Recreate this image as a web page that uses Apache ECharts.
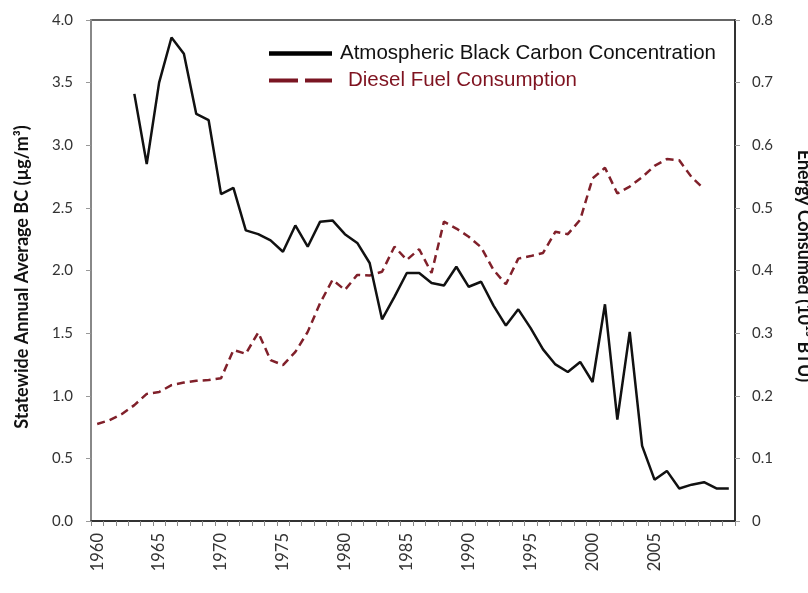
<!DOCTYPE html>
<html>
<head>
<meta charset="utf-8">
<script src="https://cdn.jsdelivr.net/npm/echarts@6/dist/echarts.min.js"></script>
<style>html,body{margin:0;padding:0;background:#fff;}#c{width:808px;height:593px;}</style>
</head>
<body>
<div id="c"></div>
<script>
var years = [];
for (var y = 1960; y <= 2011; y++) years.push(String(y));

// Atmospheric black carbon (µg/m³), 1960–2011 (no data 1960–1962)
var bcValues = [null, null, null,
  3.41, 2.85, 3.50, 3.86, 3.73, 3.25, 3.20,
  2.61, 2.66, 2.32, 2.29, 2.24, 2.15, 2.36, 2.19, 2.39, 2.40,
  2.29, 2.22, 2.06, 1.61, 1.79, 1.98, 1.98, 1.90, 1.88, 2.03,
  1.87, 1.91, 1.72, 1.56, 1.69, 1.54, 1.37, 1.25, 1.19, 1.27,
  1.11, 1.73, 0.81, 1.51, 0.60, 0.33, 0.40, 0.26, 0.29, 0.31,
  0.26, 0.26];

// Diesel fuel consumption (10^15 BTU), 1960–2009
var dieselValues = [
  0.155, 0.161, 0.171, 0.185, 0.203, 0.206, 0.217, 0.221, 0.224, 0.225,
  0.228, 0.273, 0.267, 0.301, 0.257, 0.249, 0.270, 0.302, 0.348, 0.385,
  0.369, 0.393, 0.392, 0.398, 0.438, 0.417, 0.434, 0.396, 0.478, 0.467,
  0.454, 0.437, 0.401, 0.378, 0.419, 0.423, 0.428, 0.462, 0.458, 0.481,
  0.547, 0.564, 0.523, 0.534, 0.549, 0.567, 0.578, 0.576, 0.549, 0.530,
  null, null];

var leftTicks = {min: 0, max: 4, interval: 0.5};
var rightTicks = {min: 0, max: 0.8, interval: 0.1};

var bcName = 'Atmospheric Black Carbon Concentration';
var dieselName = 'Diesel Fuel Consumption';
var leftTitle = 'Statewide Annual Average BC (\u00b5g/m\u00b3)';
var rightTitle = 'Energy Consumed (10\u00b9\u2075 BTU)';

var tickFont = {fontFamily: 'Lato', fontSize: 15, color: '#333'};
var dieselColor = '#80202a';

var chart = echarts.init(document.getElementById('c'), null, {renderer: 'canvas'});
chart.setOption({
  backgroundColor: '#fff',
  animation: false,
  grid: {left: 91, right: 73, top: 20, bottom: 72, show: true, borderColor: '#333', borderWidth: 1.5, backgroundColor: 'transparent'},
  legend: {
    orient: 'vertical', left: 269, top: 43, padding: 0,
    itemWidth: 63, itemHeight: 4.5, itemGap: 6,
    textStyle: {fontFamily: 'Liberation Sans, Arial', fontSize: 20.5, lineHeight: 20, color: '#111', padding: [0, 0, 0, 3]},
    data: [
      {name: bcName, icon: 'rect', itemStyle: {color: '#000'}},
      {name: dieselName, icon: 'path://M0,0h29v4h-29zM36,0h27v4h-27z', itemStyle: {color: '#7a1522'},
        textStyle: {color: '#7f1320', padding: [0, 0, 0, 11]}}
    ]
  },
  xAxis: {
    type: 'category', data: years, boundaryGap: true,
    axisLine: {lineStyle: {color: '#222', width: 1.5}},
    axisTick: {show: true, interval: 0, length: 5, lineStyle: {color: '#888'}},
    axisLabel: {
      rotate: 90, margin: 12, fontFamily: 'Lato', fontSize: 16.5, color: '#333',
      interval: function (i, v) { return i % 5 === 0 && Number(v) < 2010; }
    },
    splitLine: {show: false}
  },
  yAxis: [
    {
      type: 'value', min: leftTicks.min, max: leftTicks.max, interval: leftTicks.interval,
      axisLine: {show: true, lineStyle: {color: '#888', width: 2}},
      axisTick: {show: true, length: 5, lineStyle: {color: '#999'}},
      axisLabel: Object.assign({margin: 18, formatter: function (v) { return v.toFixed(1); }}, tickFont),
      splitLine: {show: false}
    },
    {
      type: 'value', position: 'right', min: rightTicks.min, max: rightTicks.max, interval: rightTicks.interval,
      axisLine: {show: true, lineStyle: {color: '#222', width: 1.5}},
      axisTick: {show: true, length: 5, lineStyle: {color: '#999'}},
      axisLabel: Object.assign({margin: 17, formatter: function (v) { return v === 0 ? '0' : v.toFixed(1); }}, tickFont),
      splitLine: {show: false}
    }
  ],
  graphic: [
    {type: 'text', x: 22, y: 277, rotation: Math.PI / 2,
      style: {text: leftTitle, font: 'bold 18px Lato', fill: '#111', textAlign: 'center', textVerticalAlign: 'middle'}},
    {type: 'text', x: 804, y: 266, rotation: -Math.PI / 2,
      style: {text: rightTitle, font: 'bold 18px Lato', fill: '#111', textAlign: 'center', textVerticalAlign: 'middle'}}
  ],
  series: [
    {name: bcName, type: 'line', yAxisIndex: 0, data: bcValues, symbol: 'none',
      lineStyle: {color: '#111', width: 2.5}, itemStyle: {color: '#111'}, z: 3},
    {name: dieselName, type: 'line', yAxisIndex: 1, data: dieselValues, symbol: 'none',
      lineStyle: {color: dieselColor, width: 2.5, type: [8, 5]}, itemStyle: {color: dieselColor}, z: 2}
  ]
});
</script>
</body>
</html>
